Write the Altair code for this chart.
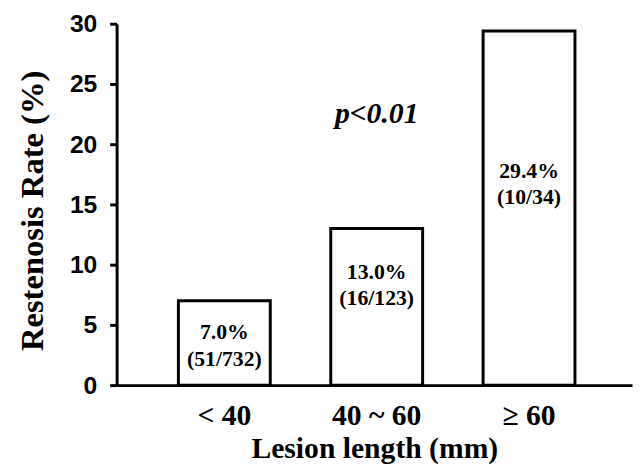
import altair as alt
import pandas as pd

categories = ["< 40", "40 ~ 60", "≥ 60"]
rates = [7.0, 13.0, 29.4]
pct_labels = ["7.0%", "13.0%", "29.4%"]
count_labels = ["(51/732)", "(16/123)", "(10/34)"]
label_pos = [4.4, 9.4, 17.8]

df = pd.DataFrame({
    "cat": categories,
    "rate": rates,
    "txt": [f"{a}\n{b}" for a, b in zip(pct_labels, count_labels)],
    "lpos": label_pos,
})

ann = pd.DataFrame({"cat": ["40 ~ 60"], "y": [22.5], "t": ["p<0.01"]})

serif = "Liberation Serif"
sans = "Liberation Sans"

x = alt.X(
    "cat:N",
    sort=categories,
    scale=alt.Scale(paddingInner=0.397, paddingOuter=0.39, align=0.52),
    axis=alt.Axis(
        title="Lesion length (mm)",
        titleFont=serif, titleFontSize=30, titleFontWeight="bold", titleColor="black",
        titleY=73, titleBaseline="alphabetic",
        labelFont=serif, labelFontSize=30, labelFontWeight="bold", labelColor="black",
        labelAngle=0, labelBaseline="alphabetic", labelPadding=40,
        ticks=False, tickSize=0,
        domainColor="black", domainWidth=3,
    ),
)

y = alt.Y(
    "rate:Q",
    scale=alt.Scale(domain=[0, 30], nice=False),
    axis=alt.Axis(
        title="Restenosis Rate (%)",
        values=[0, 5, 10, 15, 20, 25, 30],
        titleFont=serif, titleFontSize=33, titleFontWeight="bold", titleColor="black",
        titleX=-75, titleY=189, titleAngle=270, titleAlign="center", titleBaseline="alphabetic",
        labelFont=sans, labelFontSize=25, labelFontWeight="bold", labelColor="black",
        labelPadding=13, tickSize=7, tickWidth=3, tickColor="black",
        domainColor="black", domainWidth=3, grid=False,
    ),
)

bars = alt.Chart(df).mark_bar(fill="white", stroke="black", strokeWidth=3).encode(x=x, y=y)

labels = alt.Chart(df).mark_text(
    font=serif, fontSize=22, fontWeight="bold", color="black",
    lineBreak="\n", lineHeight=27, baseline="middle", align="center",
).encode(x=alt.X("cat:N", sort=categories), y=alt.Y("lpos:Q"), text="txt:N")

pval = alt.Chart(ann).mark_text(
    font=serif, fontSize=30, fontWeight="bold", fontStyle="italic", color="black",
    baseline="middle", align="center",
).encode(x=alt.X("cat:N", sort=categories), y=alt.Y("y:Q"), text="t:N")

chart = (
    alt.layer(bars, labels, pval)
    .properties(
        width=522, height=366,
        autosize=alt.AutoSizeParams(type="none"),
        padding={"left": 110, "top": 13, "right": 1, "bottom": 81},
        background="white",
    )
    .configure_view(stroke=None)
)

chart.save("out.html", embed_options={"renderer": "svg", "actions": False})
